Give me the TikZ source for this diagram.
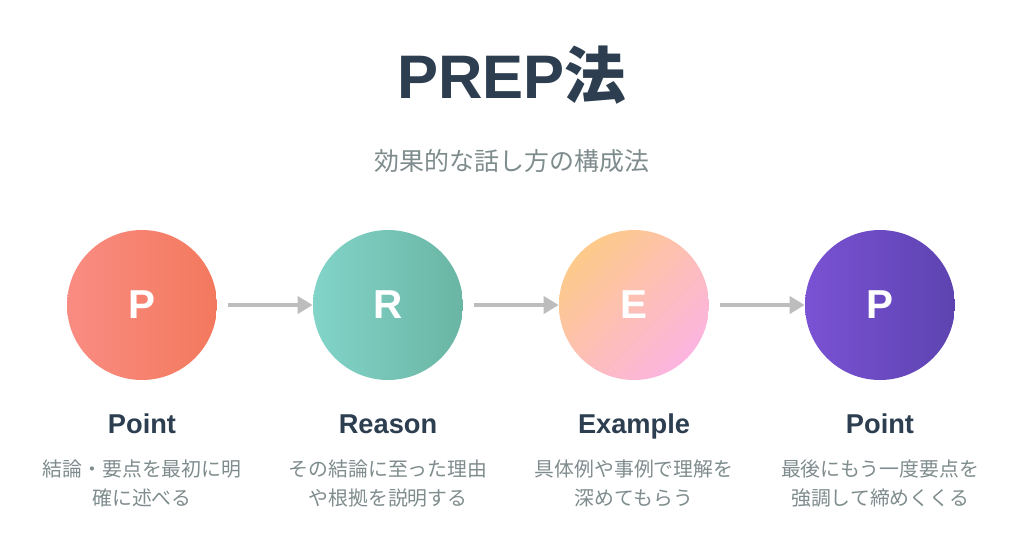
\documentclass[tikz,border=0pt]{standalone}
\usepackage{fontspec}
\setmainfont{Liberation Sans}
\newfontfamily\jp{Noto Sans CJK JP}
\usepackage{tikz}
\usetikzlibrary{arrows.meta,positioning,shadings}
\usepackage{xcolor}
\definecolor{navy}{HTML}{2C3E50}
\definecolor{greytext}{HTML}{7F8C8D}
\definecolor{arrowgrey}{HTML}{BDBDBD}
\definecolor{coralL}{HTML}{F98C82}
\definecolor{coralR}{HTML}{F3795D}
\definecolor{tealL}{HTML}{82D4C9}
\definecolor{tealR}{HTML}{6AB5A4}
\definecolor{peach}{HTML}{FDCA8A}
\definecolor{pinkish}{HTML}{FCB4E0}
\definecolor{violetL}{HTML}{7A52D4}
\definecolor{violetR}{HTML}{5D43B0}

\begin{document}
\begin{tikzpicture}[x=0.02cm, y=-0.02cm,
    letter/.style={circle, minimum size=3cm, inner sep=0pt, font=\fontsize{23}{27}\selectfont\bfseries, text=white},
    tone/.style={path picture={\shade[#1] (path picture bounding box.south west) rectangle (path picture bounding box.north east);}},
    heading/.style={anchor=base, font=\fontsize{15.5}{18}\selectfont\bfseries, text=navy},
    desc/.style={anchor=base, align=center, font=\fontsize{11.3}{16.4}\selectfont\jp, text=greytext},
    flow/.style={-{Triangle[length=0.3cm, width=0.34cm]}, line width=0.08cm, draw=arrowgrey, shorten <=0.22cm}]
    \useasboundingbox[fill=white] (0,0) rectangle (1024,542);

    % Title
    \node[anchor=base, font=\fontsize{35}{40}\selectfont\bfseries, text=navy] (title) at (512,98) {PREP{\jp 法}};
    \node[anchor=base, font=\fontsize{14.2}{17}\selectfont\jp, text=greytext] (subtitle) at (512,170) {効果的な話し方の構成法};

    % Circles
    \node[letter, tone={left color=coralL, right color=coralR}] (p1) at (142,305) {P};
    \node[letter, tone={left color=tealL, right color=tealR}] (r) at (388,305) {R};
    \node[letter, tone={top color=peach, bottom color=pinkish, shading angle=45}] (e) at (634,305) {E};
    \node[letter, tone={left color=violetL, right color=violetR}] (p2) at (880,305) {P};

    % Arrows
    \draw[flow] (p1) -- (r);
    \draw[flow] (r) -- (e);
    \draw[flow] (e) -- (p2);

    % Headings
    \node[heading] (h1) at (142,433) {Point};
    \node[heading] (h2) at (388,433) {Reason};
    \node[heading] (h3) at (634,433) {Example};
    \node[heading] (h4) at (880,433) {Point};

    % Descriptions (base = second line)
    \node[desc] (d1) at (142,505) {結論・要点を最初に明\\確に述べる};
    \node[desc] (d2) at (388,505) {その結論に至った理由\\や根拠を説明する};
    \node[desc] (d3) at (634,505) {具体例や事例で理解を\\深めてもらう};
    \node[desc] (d4) at (880,505) {最後にもう一度要点を\\強調して締めくくる};
\end{tikzpicture}
\end{document}
